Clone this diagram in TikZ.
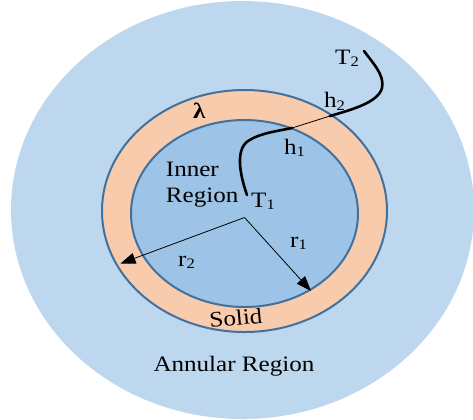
\documentclass[tikz,border=0pt]{standalone}
\usepackage{fontspec}
\setmainfont{Liberation Serif}[FakeStretch=1.14]
\usetikzlibrary{arrows.meta}
\definecolor{annular}{HTML}{BDD7EE}
\definecolor{ringfill}{HTML}{F8CBAD}
\definecolor{innerfill}{HTML}{9DC3E6}
\definecolor{outline}{HTML}{41719C}
\newcommand{\lsub}[1]{\raisebox{-2.6bp}{\fontsize{14.5bp}{14.5bp}\selectfont #1}}
\tikzset{
  lbl/.style={anchor=base west, inner sep=0pt, font=\fontsize{22bp}{26bp}\selectfont},
  rimline/.style={draw=outline, line width=2bp},
  pathcurve/.style={line width=2.6bp, line cap=round},
  radarrow/.style={-{Triangle[length=15bp,width=11bp]}, line width=0.8bp}
}
\begin{document}
\begin{tikzpicture}[x=1bp,y=-1bp]
\useasboundingbox (0,0) rectangle (473,419);
\begin{scope}
\clip (0,0) rectangle (473,419);
\fill[annular] (242.5,210) ellipse [x radius=231.5, y radius=209];
\end{scope}
\filldraw[fill=ringfill, rimline] (244.5,211) ellipse [x radius=142.5, y radius=121];
\filldraw[fill=innerfill, rimline] (244.5,213.5) ellipse [x radius=113.5, y radius=93.5];
% radii
\coordinate (ctr) at (244.5,217.5);
\coordinate (r2tip) at (120.5,263.5);
\coordinate (r1tip) at (311,291);
\draw[radarrow] (ctr) -- (r2tip);
\draw[radarrow] (ctr) -- (r1tip);
% heat path
\coordinate (T1end) at (247,195);
\coordinate (h1pt) at (292,128);
\coordinate (h2pt) at (330,116);
\coordinate (T2end) at (364,51);
\draw[pathcurve] (T1end) .. controls (240,175) and (235,150) .. (248,141) .. controls (260,133) and (278,131) .. (h1pt);
\draw[line width=0.8bp] (h1pt) -- (h2pt);
\draw[pathcurve] (h2pt) .. controls (350,110) and (378,103) .. (382,88) .. controls (385,75) and (372,62) .. (T2end);
% labels
\node[lbl] (T2) at (335,64) {T\lsub{2}};
\node[lbl] (h2) at (324,107.5) {h\lsub{2}};
\node[lbl] (h1) at (284,154) {h\lsub{1}};
\node[lbl] (T1) at (251,207) {T\lsub{1}};
\node[lbl] (lam) at (193,118.5) {\textbf{λ}};
\node[lbl] (inner1) at (165.7,176.7) {Inner};
\node[lbl] (inner2) at (165.7,202.3) {Region};
\node[lbl] (r1) at (290,247) {r\lsub{1}};
\node[lbl] (r2) at (178,266) {r\lsub{2}};
\node[lbl, rotate=5.5] (solid) at (210,328) {Solid};
\node[lbl] (ann) at (153.3,371) {Annular Region};
\end{tikzpicture}
\end{document}
